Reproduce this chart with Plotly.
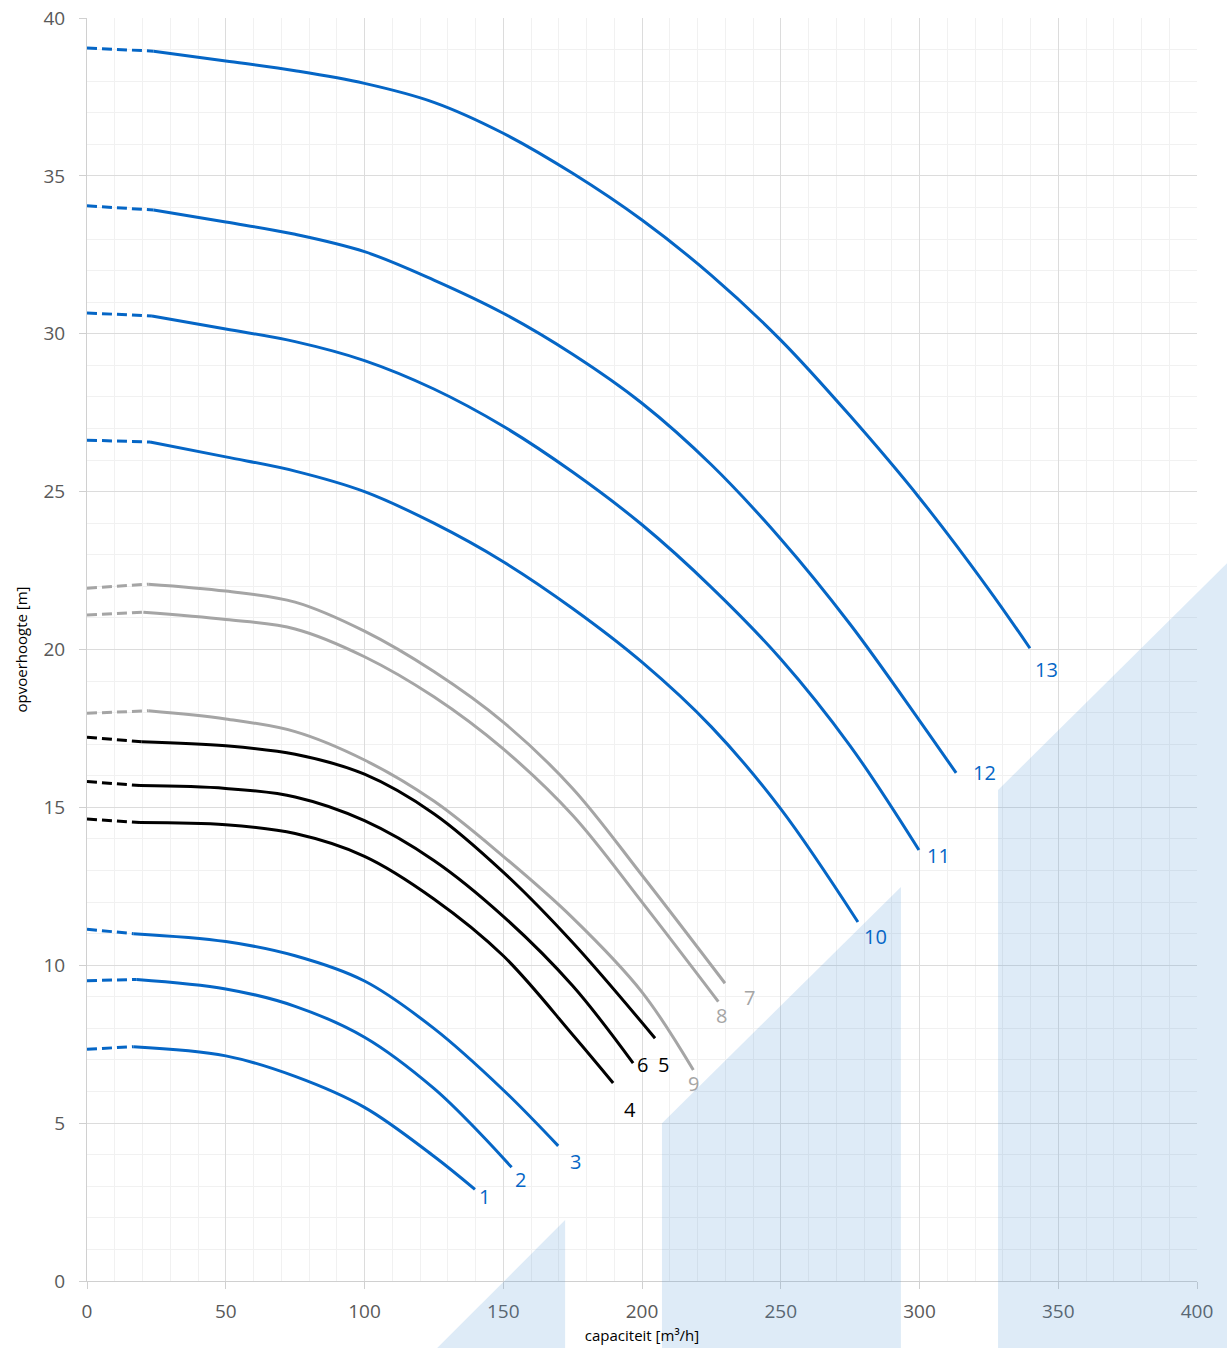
import plotly.graph_objects as go

# ---------------- data ----------------
X_RANGE = [0, 400]
Y_RANGE = [0, 40]

BLUE = "#0566C6"
GRAY = "#A5A5A5"
BLACK = "#000000"

# dashed start (dx, dy) and solid curve (x, y) per pump curve
c1_dx = [0, 16.7]; c1_dy = [7.34, 7.42]
c1_x = [16.7, 50, 75, 100, 125, 139.8]
c1_y = [7.42, 7.13, 6.48, 5.5, 3.95, 2.9]

c2_dx = [0, 17.9]; c2_dy = [9.51, 9.55]
c2_x = [17.9, 50, 75, 100, 125, 141.6, 153]
c2_y = [9.55, 9.25, 8.7, 7.72, 6.1, 4.68, 3.6]

c3_dx = [0, 16.7]; c3_dy = [11.14, 11.0]
c3_x = [16.7, 50, 75, 100, 125, 150, 169.8]
c3_y = [11.0, 10.75, 10.3, 9.5, 8.0, 6.05, 4.28]

c4_dx = [0, 19.1]; c4_dy = [14.63, 14.52]
c4_x = [19.1, 50, 75, 100, 125, 150, 175, 189.6]
c4_y = [14.52, 14.45, 14.17, 13.45, 12.1, 10.3, 7.8, 6.27]

c5_dx = [0, 19.7]; c5_dy = [17.22, 17.08]
c5_x = [19.7, 50, 75, 100, 125, 150, 175, 204.7]
c5_y = [17.08, 16.95, 16.68, 16.05, 14.8, 12.95, 10.72, 7.69]

c6_dx = [0, 19.1]; c6_dy = [15.82, 15.69]
c6_x = [19.1, 50, 75, 100, 125, 150, 175, 196.8]
c6_y = [15.69, 15.6, 15.33, 14.58, 13.32, 11.55, 9.35, 6.9]

c7_dx = [0, 22.1]; c7_dy = [21.94, 22.07]
c7_x = [22.1, 50, 75, 100, 125, 150, 175, 200, 229.9]
c7_y = [22.07, 21.85, 21.5, 20.58, 19.3, 17.7, 15.6, 12.85, 9.43]

c8_dx = [0, 20.3]; c8_dy = [21.09, 21.18]
c8_x = [20.3, 50, 75, 100, 125, 150, 175, 200, 227.5]
c8_y = [21.18, 20.95, 20.65, 19.77, 18.5, 16.85, 14.75, 12.0, 8.85]

c9_dx = [0, 22.1]; c9_dy = [17.98, 18.06]
c9_x = [22.1, 50, 75, 100, 125, 150, 175, 200, 218.5]
c9_y = [18.06, 17.8, 17.4, 16.5, 15.2, 13.45, 11.5, 9.15, 6.68]

c10_dx = [0, 22.7]; c10_dy = [26.63, 26.57]
c10_x = [22.7, 50, 75, 100, 125, 150, 175, 200, 225, 250, 277.8]
c10_y = [26.57, 26.1, 25.65, 25.0, 24.0, 22.78, 21.3, 19.6, 17.55, 14.95, 11.37]

c11_dx = [0, 23.4]; c11_dy = [30.66, 30.56]
c11_x = [23.4, 50, 75, 100, 125, 150, 175, 200, 225, 250, 275, 299.8]
c11_y = [30.56, 30.15, 29.75, 29.15, 28.25, 27.07, 25.62, 23.95, 21.97, 19.7, 16.95, 13.65]

c12_dx = [0, 24]; c12_dy = [34.05, 33.92]
c12_x = [24, 50, 75, 100, 125, 150, 175, 200, 225, 250, 275, 300, 313.2]
c12_y = [33.92, 33.54, 33.15, 32.6, 31.7, 30.65, 29.35, 27.8, 25.85, 23.5, 20.8, 17.75, 16.09]

c13_dx = [0, 24]; c13_dy = [39.05, 38.95]
c13_x = [24, 50, 75, 100, 125, 150, 175, 200, 225, 250, 275, 300, 325, 339.8]
c13_y = [38.95, 38.64, 38.33, 37.93, 37.33, 36.35, 35.08, 33.6, 31.85, 29.8, 27.4, 24.8, 21.9, 20.04]

curves = [
    ("1", c1_dx, c1_dy, c1_x, c1_y, BLUE),
    ("2", c2_dx, c2_dy, c2_x, c2_y, BLUE),
    ("3", c3_dx, c3_dy, c3_x, c3_y, BLUE),
    ("4", c4_dx, c4_dy, c4_x, c4_y, BLACK),
    ("5", c5_dx, c5_dy, c5_x, c5_y, BLACK),
    ("6", c6_dx, c6_dy, c6_x, c6_y, BLACK),
    ("7", c7_dx, c7_dy, c7_x, c7_y, GRAY),
    ("8", c8_dx, c8_dy, c8_x, c8_y, GRAY),
    ("9", c9_dx, c9_dy, c9_x, c9_y, GRAY),
    ("10", c10_dx, c10_dy, c10_x, c10_y, BLUE),
    ("11", c11_dx, c11_dy, c11_x, c11_y, BLUE),
    ("12", c12_dx, c12_dy, c12_x, c12_y, BLUE),
    ("13", c13_dx, c13_dy, c13_x, c13_y, BLUE),
]

# curve labels (text, x, y in data units)
label_text = ["1", "2", "3", "4", "5", "6", "7", "8", "9", "10", "11", "12", "13"]
label_x = [143.1, 156.2, 175.9, 195.7, 207.9, 200.0, 238.9, 228.5, 218.7, 284.3, 307.0, 323.6, 345.9]
label_y = [2.69, 3.23, 3.80, 5.42, 6.87, 6.87, 8.99, 8.42, 6.24, 10.9, 13.49, 16.12, 19.38]
label_color = [BLUE, BLUE, BLUE, BLACK, BLACK, BLACK, GRAY, GRAY, GRAY, BLUE, BLUE, BLUE, BLUE]

# shaded zones (data units; they run past the axes, as in the original)
zone1_x = [116.2, 172.3, 172.3]
zone1_y = [-3.0, 1.93, -3.0]
zone2_x = [207.2, 207.2, 293.3, 293.3]
zone2_y = [-3.0, 5.0, 12.48, -3.0]
zone3_x = [328.3, 328.3, 415.0, 415.0]
zone3_y = [-3.0, 15.55, 23.1, -3.0]
zones = [(zone1_x, zone1_y), (zone2_x, zone2_y), (zone3_x, zone3_y)]

# ---------------- figure ----------------
fig = go.Figure()

for name, dx, dy, sx, sy, col in curves:
    fig.add_trace(go.Scatter(x=dx, y=dy, mode="lines",
                             line=dict(color=col, width=3, dash="10px,5px"),
                             hoverinfo="skip", showlegend=False))
    fig.add_trace(go.Scatter(x=sx, y=sy, mode="lines",
                             line=dict(color=col, width=3, shape="spline", smoothing=1.0),
                             name=name, showlegend=False))

for t, x, y, c in zip(label_text, label_x, label_y, label_color):
    fig.add_annotation(x=x, y=y, text=t, showarrow=False,
                       font=dict(family="Open Sans", size=20, color=c))


def to_paper(v, rng):
    return (v - rng[0]) / (rng[1] - rng[0])


for zx, zy in zones:
    path = "M " + " L ".join(f"{to_paper(a, X_RANGE):.5f},{to_paper(b, Y_RANGE):.5f}"
                             for a, b in zip(zx, zy)) + " Z"
    fig.add_shape(type="path", path=path, xref="paper", yref="paper",
                  fillcolor="rgba(91,155,213,0.2)", line=dict(width=0), layer="above")

axis_common = dict(
    showline=True, linecolor="#D0D0D0", linewidth=1,
    ticks="outside", ticklen=7, tickcolor="#D0D0D0",
    showgrid=True, gridcolor="#DCDCDC", gridwidth=1,
    zeroline=False, automargin=False, ticklabeloverflow="allow",
    tickfont=dict(family="Open Sans", size=19, color="#595959"),
)

fig.update_xaxes(range=X_RANGE, dtick=50, tick0=0,
                 minor=dict(dtick=10, showgrid=True, gridcolor="#F1F1F1", ticks=""),
                 title=dict(text="capaciteit [m³/h]",
                            font=dict(family="Open Sans", size=15, color="#000000"),
                            standoff=7),
                 ticklabelstandoff=6,
                 **axis_common)
fig.update_yaxes(range=Y_RANGE, dtick=5, tick0=0,
                 minor=dict(dtick=1, showgrid=True, gridcolor="#F1F1F1", ticks=""),
                 title=dict(text="opvoerhoogte [m]",
                            font=dict(family="Open Sans", size=15, color="#000000"),
                            standoff=12),
                 ticklabelstandoff=10,
                 **axis_common)

fig.update_layout(
    width=1227, height=1348,
    margin=dict(l=87, r=30, t=18, b=67),
    plot_bgcolor="white", paper_bgcolor="white",
    font=dict(family="Open Sans"),
    showlegend=False,
)

# remove the page's default 8px body margin so the figure fills the window exactly
fig.write_html("out.html",
               config={"displayModeBar": False},
               post_script="document.body.style.margin='0';document.body.style.overflow='hidden';")
